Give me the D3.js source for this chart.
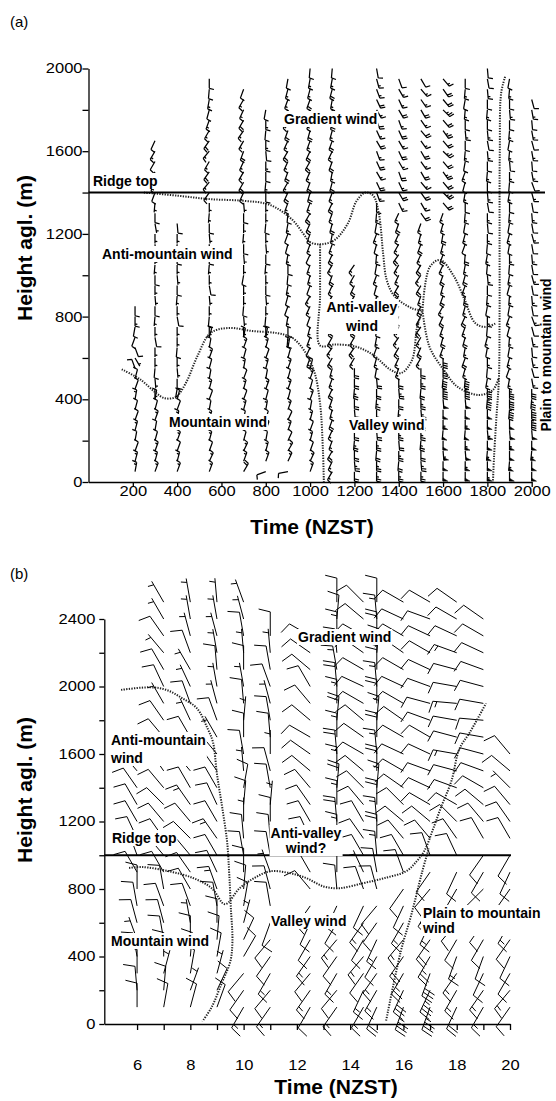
<!DOCTYPE html>
<html>
<head>
<meta charset="utf-8">
<script src="https://cdn.jsdelivr.net/npm/d3@7"></script>
<style>
  body { margin: 0; background: #fff; }
  text { font-family: "Liberation Sans", Arial, sans-serif; }
</style>
</head>
<body>
<script>
// ---------- panel (a): sodar profiles, time in hhmm, height in m ----------
const timesA = [210, 300, 400, 545, 700, 800, 900, 1000, 1100, 1200, 1300, 1400, 1500, 1600, 1700, 1800, 1900, 2000];
const levelsA = [50, 100, 150, 200, 250, 300, 350, 400, 450, 500, 550, 600, 650, 700, 750, 800, 850, 900, 950, 1000,
  1050, 1100, 1150, 1200, 1250, 1300, 1350, 1400, 1450, 1500, 1550, 1600, 1650, 1700, 1750, 1800, 1850, 1900, 1950, 2000];
// wind direction (deg, from) for each column, lowest level first
const dirA = [
  [10,15,20,10,15,20,15,10,20,15,340,150,160,200,190,180,180],
  [20,15,20,15,10,20,15,10, 180,175,185,180,180,170,180,185,180,175,180,180,185,180,175,180,170,180,185, 200,205,210,210,210,205],
  [20,15,20,20,15,10,20,15, 190,180,175,180,185,180,180,170,180,185,180,175,180,180,185,180,175],
  [20,25,20,15,20,15,10,20,15,10,15,20,10,15, 180,185,180,175,170,180,185,180,180,175,180,185,180, 215,220,215,210,220,215,210,200,195,190,185,180],
  [30,20,25,15,20,10,15,20,15,20,10,15,20,10, 180,175,185,180,180,190,180,175,180,185,180,180,175, 205,210,210,205,200,210,215,210,205,210,200],
  [250,20, 15,10,20,15,10,15,20,10,15,20,15,10, 180,185,180,175,180,180,185,180,175,180,185,180,180, 180,185,180,180,175,180,185,180,190],
  [260, 25,30,25,20,25,20,15,20,15,20,15,10, 185,180,190,200,195,190,185,180,190,195,200,190,185, 200,205,210,200,205,210,205,200,210,205,200,195,190],
  [20,25,20,15,20,15,10,20,15,20,15, 200,205,200,195,200,205,210,200,195,200,205,200, 200,205,210,200,195,200,205,210,205,200,195,200,205,200,195,190,185],
  [210,205,210,200,205,200,195,200,205,200,195, 210,215,210,205,210,215,210,205,200,210,205,200, 190,195,200,205,200,195,190,200,205,200,195,190,185,190,195,190,185],
  [180,175,180,185,180,180,175,180,185,180,180, 210,215,210,205,210,215,210,205,210,215],
  [180,180,185,180,175,180,180,185,180,175, 190,195,200,190,185,195,200,190,195,200,190,185,195,200,190,185,180, 160,155,150,155,160,150,155,160,150,155,160,165,170],
  [180,185,180,175,180,180,185,180,175,180, 200,205,210,215,210,205,210,215,210,205,210,215,210,205,200,205, 155,150,155,160,150,155,150,155,160,150,155,150,160],
  [180,175,180,185,180,180,175,180,185,180,180, 210,205,210,215,210,205,200,210,215,210,205,200,195,200, 145,150,145,140,150,145,150,145,140,145,150,145,140,150],
  [180,180,175,180,185,180,180,175,180,185,180,180, 200,195,200,205,210,200,195,200,205,200,195,190,195,200, 140,135,140,145,140,135,140,145,140,135,140,145,140],
  [180,180,175,180,185,180,180,175,180,185, 195,200,190,195,200,205,195,190,200,195,190,185, 200,195,190,185,180,190,195,200,190,185,180,175,180,185,190,185,180],
  [180,180,185,180,175,180,180,185,180, 190,185,180,190,195,185,180,190,185,180,175,185,190,185,180,175,180, 170,175,180,185,180,175,170,175,180,185,180,175,170,175],
  [180,185,180,180,175,180,185,180,180, 190,200,195,190,185,195,200,190,185,195,190,185,180,190,195,190,185,180,190,185,180,175,185,190,185,180,175,180,185,190],
  [180,180,185,180,175,180,180,185,180, 170,165,170,175,170,165,160,170,175,170,165,170,175,170,165,170,175,170,165,160,170,175,170,165,170,175,170,165]
];
// wind speed (kt) for each column, lowest level first
const spdA = [
  [15,15,10,10,15,10,10,15,10,10,10,5,10,10,10,15,10],
  [15,15,15,10,10,15,10,10, 5,5,10,5,5,10,5,5,10,5,5,10,5,5,10,5,5,10,5, 10,15,15,10,15,10],
  [15,15,10,15,10,15,10,10, 5,10,5,5,10,5,5,10,5,5,10,5,5,10,5,5,10],
  [15,15,10,15,10,15,10,10,15,10,10,15,10,10, 5,10,5,5,10,5,5,10,5,5,10,5,5, 15,15,20,15,15,20,15,15,10,15,10,10],
  [20,15,15,10,15,10,15,10,15,10,15,10,15,10, 5,5,10,5,5,10,5,5,10,5,5,10,5, 15,20,15,15,20,15,15,20,15,15,10],
  [10,15, 15,10,15,10,15,10,15,10,15,10,15,10, 5,10,5,5,10,5,5,10,5,5,10,5,5, 10,15,10,15,10,15,10,15,10],
  [10, 15,15,10,15,10,15,10,15,10,15,10,15, 10,10,15,10,10,15,10,10,15,10,10,15,10, 15,20,15,20,15,20,15,20,15,20,15,15,10],
  [15,15,10,15,10,15,10,15,10,15,10, 15,10,15,15,10,15,15,10,15,15,10,15, 15,20,20,15,20,20,15,20,20,15,20,15,15,20,15,15,10],
  [15,15,20,15,15,20,15,15,20,15,15, 20,15,20,20,15,20,20,15,20,15,20,15, 15,20,15,20,15,20,15,20,15,20,15,20,15,15,20,15,10],
  [20,25,20,25,20,25,20,20,25,20,20, 15,20,15,20,15,20,15,20,15,15],
  [25,25,20,25,20,25,20,25,20,20, 10,15,10,15,10,15,10,15,10,15,10,15,10,15,10,15,10, 15,20,15,20,15,20,15,20,15,20,15,15,10],
  [25,20,25,20,25,20,25,20,25,20, 15,15,20,15,15,20,15,15,20,15,15,20,15,15,20,15, 15,20,15,20,15,20,15,20,15,20,15,15,10],
  [25,25,20,25,25,20,25,25,20,25,20, 15,20,15,20,15,20,15,20,15,20,15,20,15,15, 20,15,20,15,20,15,20,15,20,15,20,15,15,10],
  [50,50,55,50,50,55,50,50,45,40,35,30, 15,20,15,20,15,20,15,20,15,20,15,20,15,15, 20,25,20,25,20,25,20,25,20,25,20,20,15],
  [50,55,50,55,50,55,50,50,45,40, 15,20,15,20,15,20,15,20,15,20,15,20, 10,15,10,15,10,15,10,15,10,15,10,15,10,15,10,15,10],
  [55,50,55,50,55,50,50,45,40, 15,10,15,10,15,10,15,10,15,10,15,10,15,10,15,10,15, 10,15,10,15,10,15,10,15,10,15,10,15,10,10],
  [50,55,50,55,50,50,45,40,35, 15,10,15,10,15,10,15,10,15,10,15,10,15,10,15,10,15,10,15,10,15,10,15,10,15,10,15,10,15,10],
  [50,50,55,50,50,45,40,35,30, 15,10,15,10,15,10,15,10,15,10,15,10,15,10,15,10,15,10,15,10,15,10,15,10,15,10,15,10]
];
const ridgeA = 1400;
// dotted regime boundaries, [time, height]
const dotsA = [
  [[250,1400],[400,1385],[550,1368],[700,1360],[820,1340],[920,1268],[970,1200],[1000,1160],[1050,1150],[1110,1170],[1170,1250],[1210,1360],[1250,1400],[1285,1385],[1310,1300],[1330,1100],[1345,980],[1380,900],[1460,840],[1507,830]],
  [[150,545],[235,495],[300,435],[345,405],[395,412],[440,480],[490,605],[550,720],[630,745],[740,730],[850,720],[920,697],[980,625],[1020,530],[1045,380],[1058,150],[1062,0]],
  [[1045,1150],[1045,900],[1045,660],[1110,665],[1205,655],[1284,615],[1364,542],[1411,527],[1460,590],[1483,750],[1507,830]],
  [[1507,830],[1540,1040],[1587,1074],[1650,993],[1698,880],[1745,769],[1793,750],[1841,769]],
  [[1507,830],[1539,653],[1603,542],[1666,460],[1762,421],[1825,445],[1850,500]],
  [[1880,1960],[1862,1880],[1856,1600],[1855,1200],[1855,800],[1852,500],[1840,300],[1830,120],[1825,0]]
];

// ---------- panel (b): pibal profiles, time in hours, height in m ----------
const timesB = [6, 7, 8, 9, 10, 11, 12.5, 13.5, 14.5, 15, 16, 17, 18, 19, 20];
const levelsB = [100, 200, 300, 400, 500, 600, 700, 800, 900, 1000, 1100, 1200, 1300, 1400, 1500, 1600, 1700, 1800,
  1900, 2000, 2100, 2200, 2300, 2400, 2500];
const dirB = [
  [0,355,0,350,340,345,350,0,330,340,335,330,330,325,320,null,null,null,null,null,null,null,null,null,null],
  [10,5,15,0,350,345,340,350,330,320,325,320,315,320,325,330,320,325,330,335,330,320,325,330,330],
  [15,20,10,5,0,350,340,330,325,320,315,320,325,330,320,325,330,335,340,335,330,340,345,350,350],
  [20,25,15,10,5,0,350,340,335,330,325,330,335,330,325,320,330,340,345,350,355,350,345,350,355],
  [210,215,220,30,25,15,10,5,0,350,355,0,5,10,355,350,0,5,355,350,0,355,350,345,340],
  [215,220,210,215,220,200,350,345,340,350,355,0,5,350,345,0,355,350,345,340,350,355,0,null,null],
  [210,215,220,215,210,205,215,320,330,340,335,330,325,320,310,305,300,310,320,330,310,305,300,null,null],
  [215,220,210,215,220,210,205,355,0,5,0,355,0,5,0,355,0,5,0,355,350,355,0,5,0],
  [210,205,215,220,210,215,205,340,335,330,325,330,320,315,310,300,305,310,300,295,300,305,300,310,315],
  [205,210,215,210,205,215,220,345,350,355,0,355,0,5,0,355,0,5,0,355,0,5,0,355,0],
  [200,205,210,215,220,210,205,215,340,330,320,310,315,305,300,295,300,305,300,295,300,305,300,295,300],
  [200,205,200,210,215,205,210,220,215,340,320,310,300,295,290,295,300,290,285,290,295,300,295,290,300],
  [205,210,215,200,210,220,215,210,205,335,325,315,300,290,285,280,285,280,275,280,285,290,295,300,305],
  [210,215,205,200,210,215,220,225,210,215,330,320,310,300,290,285,280,275,280,285,290,295,300,305,null],
  [215,220,210,205,215,210,220,215,205,210,330,325,320,315,310,320,null,null,null,null,null,null,null,null,null]
];
const spdB = [
  [10,10,10,10,5,10,10,10,10,5,10,10,10,10,10,null,null,null,null,null,null,null,null,null,null],
  [10,10,5,10,10,10,10,10,10,15,10,10,10,10,10,5,10,10,5,10,10,5,10,5,5],
  [10,5,10,10,10,5,10,10,10,15,10,10,15,10,10,10,10,5,10,5,5,10,5,5,5],
  [10,10,5,10,10,10,10,15,10,10,15,10,10,10,10,10,5,10,5,5,10,5,5,5,5],
  [15,10,10,10,10,5,10,10,10,10,10,5,10,10,5,10,10,5,10,5,10,5,10,5,5],
  [15,10,15,10,10,10,10,10,5,10,10,10,5,10,10,5,10,10,5,10,10,5,10,null,null],
  [10,15,10,15,10,10,10,10,10,5,10,10,10,10,10,10,10,10,10,10,10,10,10,null,null],
  [15,10,15,10,15,10,10,10,15,10,15,20,15,20,15,20,15,20,15,20,15,20,15,10,10],
  [15,15,10,15,10,15,10,10,5,10,10,10,10,10,10,10,10,10,10,10,10,10,10,10,10],
  [20,15,15,10,15,10,10,10,10,15,20,15,20,15,20,15,20,15,20,15,20,15,20,15,10],
  [35,30,25,20,15,15,10,10,10,10,10,10,10,10,10,10,10,10,10,10,10,10,10,10,10],
  [35,35,30,25,20,15,15,10,10,10,10,10,10,10,10,10,10,10,10,10,10,10,10,10,10],
  [20,15,15,15,10,10,10,10,10,10,10,10,10,10,10,15,10,10,15,10,10,15,10,10,10],
  [15,15,10,10,10,10,10,10,10,10,10,10,10,10,10,10,10,10,10,10,10,10,10,10,null],
  [10,15,10,10,10,15,10,10,10,10,10,10,10,5,10,10,null,null,null,null,null,null,null,null,null]
];
const ridgeB = 1000;
const dotsB = [
  [[5.4,1980],[6.5,1995],[7.1,1980],[7.7,1930],[8.25,1870],[8.65,1750],[8.85,1670],[9.0,1480],[9.2,1280],[9.38,1080],[9.46,890],[9.52,690],[9.58,490],[9.5,370],[9.2,250],[8.8,100],[8.45,15]],
  [[5.7,925],[6.2,930],[7.2,905],[8.1,865],[8.8,805],[9.3,710],[9.85,805],[10.4,865],[11.0,905],[11.7,895],[12.35,865],[13.0,815],[13.6,805],[14.5,835],[15.3,865],[16.1,905],[16.5,965],[16.8,1030],[17.1,1150],[17.4,1280],[17.8,1440],[18.1,1630],[18.5,1730],[19.1,1900]],
  [[15.35,20],[15.9,430],[16.3,650],[16.7,900],[16.95,1040]]
];

const svg = d3.select("body").append("svg").attr("width", 556).attr("height", 1101);

const xA = d3.scaleLinear().domain([0, 2000]).range([88.5, 531.7]);
const yA = d3.scaleLinear().domain([0, 2000]).range([482, 68.5]);
const xB = d3.scaleLinear().domain([4.77, 20]).range([104.3, 510]);
const yB = d3.scaleLinear().domain([0, 2400]).range([1024, 619]);

// one wind barb: staff from the station towards the wind source, feathers at the far end
function barbPath(x, y, dir, spd, L, B, gap) {
  const r = dir * Math.PI / 180;
  const ux = Math.sin(r), uy = -Math.cos(r);
  const px = uy, py = -ux;
  const fx = px * 0.97 + ux * 0.24, fy = py * 0.97 + uy * 0.24;
  let n = Math.round(spd / 5) * 5;
  const flags = Math.floor(n / 50); n -= flags * 50;
  const full = Math.floor(n / 10); n -= full * 10;
  const half = n >= 5 ? 1 : 0;
  const f = v => v.toFixed(2);
  let lines = `M${f(x)},${f(y)}L${f(x + ux * L)},${f(y + uy * L)}`;
  let tri = "";
  let pos = L;
  for (let i = 0; i < flags; i++) {
    const ax = x + ux * pos, ay = y + uy * pos;
    const bx = x + ux * (pos - gap * 1.3), by = y + uy * (pos - gap * 1.3);
    tri += `M${f(ax)},${f(ay)}L${f(ax + px * B)},${f(ay + py * B)}L${f(bx)},${f(by)}Z`;
    pos -= gap * 1.6;
  }
  for (let i = 0; i < full; i++) {
    const ax = x + ux * pos, ay = y + uy * pos;
    lines += `M${f(ax)},${f(ay)}L${f(ax + fx * B)},${f(ay + fy * B)}`;
    pos -= gap;
  }
  if (half) {
    if (flags + full === 0) pos -= gap;
    const ax = x + ux * pos, ay = y + uy * pos;
    lines += `M${f(ax)},${f(ay)}L${f(ax + fx * B / 2)},${f(ay + fy * B / 2)}`;
  }
  return { lines, tri };
}

function drawBarbs(g, times, levels, dirs, spds, x, y, L, B, gap, sw) {
  const data = times.flatMap((t, i) => dirs[i].map((d, j) => ({ t, h: levels[j], dir: d, spd: spds[i][j] })))
    .filter(d => d.dir !== null && d.spd !== null && d.spd !== undefined);
  data.forEach(d => { d.p = barbPath(x(d.t), y(d.h), d.dir, d.spd, L, B, gap); });
  g.append("g").selectAll("path").data(data).join("path")
    .attr("d", d => d.p.lines).attr("fill", "none").attr("stroke", "#000").attr("stroke-width", sw);
  g.append("g").selectAll("path").data(data.filter(d => d.p.tri)).join("path")
    .attr("d", d => d.p.tri).attr("fill", "#000").attr("stroke", "#000").attr("stroke-width", 0.5);
}

function drawDots(g, dots, x, y) {
  const line = d3.line().x(d => x(d[0])).y(d => y(d[1])).curve(d3.curveCatmullRom.alpha(0.5));
  g.append("g").selectAll("path").data(dots).join("path")
    .attr("d", line).attr("fill", "none").attr("stroke", "#222")
    .attr("stroke-width", 2).attr("stroke-dasharray", "1.3,1.3");
}

function addLabel(g, lines, x, y, anchor, lh) {
  const t = g.append("text").attr("x", x).attr("y", y).attr("text-anchor", anchor)
    .attr("font-weight", "bold").attr("font-size", 14);
  lines.forEach((s, i) => t.append("tspan").attr("x", x).attr("dy", i ? lh : 0).text(s));
  const b = t.node().getBBox();
  g.insert("rect", () => t.node()).attr("x", b.x - 1).attr("y", b.y).attr("width", b.width + 2)
    .attr("height", b.height).attr("fill", "#fff");
}

function styleAxis(ax, origin) {
  ax.selectAll("path, line").attr("stroke", "#000").attr("stroke-width", 1.3);
  ax.selectAll(".tick text").attr("font-size", 14).attr("fill", "#000")
    .attr("font-family", "Liberation Sans, Arial, sans-serif")
    .style("transform", "scaleX(1.18)").style("transform-box", "fill-box").style("transform-origin", origin);
}

// ---------- panel (a) ----------
const gA = svg.append("g");
drawBarbs(gA, timesA, levelsA, dirA, spdA, xA, yA, 9.5, 4.8, 2.3, 1.25);
drawDots(gA, dotsA, xA, yA);
gA.append("line").attr("x1", xA(0)).attr("x2", 545).attr("y1", yA(ridgeA)).attr("y2", yA(ridgeA))
  .attr("stroke", "#000").attr("stroke-width", 2);

const axA = gA.append("g").attr("transform", `translate(${xA(0)},0)`)
  .call(d3.axisLeft(yA).tickValues(d3.range(0, 2001, 200)).tickSize(6).tickSizeOuter(0).tickPadding(0)
    .tickFormat(d => d % 400 === 0 ? String(d) : ""));
styleAxis(axA, "right");
const axAx = gA.append("g").attr("transform", `translate(0,${yA(0)})`)
  .call(d3.axisBottom(xA).tickValues(d3.range(200, 2001, 200)).tickSize(5).tickSizeOuter(0).tickPadding(-1)
    .tickFormat(d => String(d)));
styleAxis(axAx, "center");

gA.append("text").attr("x", 10).attr("y", 27).attr("font-size", 15).text("(a)");
gA.append("text").attr("x", 312).attr("y", 534).attr("text-anchor", "middle")
  .attr("font-weight", "bold").attr("font-size", 21).text("Time (NZST)");
gA.append("text").attr("transform", "translate(32,248) rotate(-90)").attr("text-anchor", "middle")
  .attr("font-weight", "bold").attr("font-size", 21).text("Height agl. (m)");

addLabel(gA, ["Ridge top"], 93, 186, "start", 0);
addLabel(gA, ["Gradient wind"], 284, 124, "start", 0);
addLabel(gA, ["Anti-mountain wind"], 102, 259, "start", 0);
addLabel(gA, ["Anti-valley", "wind"], 362, 312, "middle", 19);
addLabel(gA, ["Mountain wind"], 169, 427, "start", 0);
addLabel(gA, ["Valley wind"], 349, 430, "start", 0);
gA.append("text").attr("transform", "translate(551,355) rotate(-90)").attr("text-anchor", "middle")
  .attr("font-weight", "bold").attr("font-size", 14).text("Plain to mountain wind");

// ---------- panel (b) ----------
const gB = svg.append("g");
drawBarbs(gB, timesB, levelsB, dirB, spdB, xB, yB, 24, 12, 4, 1);
drawDots(gB, dotsB, xB, yB);
gB.append("line").attr("x1", xB.range()[0]).attr("x2", 511).attr("y1", yB(ridgeB)).attr("y2", yB(ridgeB))
  .attr("stroke", "#000").attr("stroke-width", 2);

const axB = gB.append("g").attr("transform", `translate(${xB.range()[0]},0)`)
  .call(d3.axisLeft(yB).tickValues(d3.range(0, 2401, 200)).tickSize(5).tickSizeOuter(0).tickPadding(4)
    .tickFormat(d => d % 400 === 0 ? String(d) : ""));
styleAxis(axB, "right");
const axBx = gB.append("g").attr("transform", `translate(0,${yB(0)})`)
  .call(d3.axisBottom(xB).tickValues(d3.range(6, 20.01, 1)).tickSize(6).tickSizeOuter(0).tickPadding(30)
    .tickFormat(d => d % 2 === 0 ? String(d) : ""));
styleAxis(axBx, "center");

gB.append("text").attr("x", 10).attr("y", 579).attr("font-size", 15).text("(b)");
gB.append("text").attr("x", 336).attr("y", 1094).attr("text-anchor", "middle")
  .attr("font-weight", "bold").attr("font-size", 21).text("Time (NZST)");
gB.append("text").attr("transform", "translate(32,790) rotate(-90)").attr("text-anchor", "middle")
  .attr("font-weight", "bold").attr("font-size", 21).text("Height agl. (m)");

addLabel(gB, ["Gradient wind"], 298, 642, "start", 0);
addLabel(gB, ["Anti-mountain", "wind"], 111, 745, "start", 18);
addLabel(gB, ["Ridge top"], 112, 843, "start", 0);
addLabel(gB, ["Anti-valley", "wind?"], 306, 838, "middle", 15);
addLabel(gB, ["Valley wind"], 271, 926, "start", 0);
addLabel(gB, ["Plain to mountain", "wind"], 423, 918, "start", 15);
addLabel(gB, ["Mountain wind"], 111, 946, "start", 0);
</script>
</body>
</html>
